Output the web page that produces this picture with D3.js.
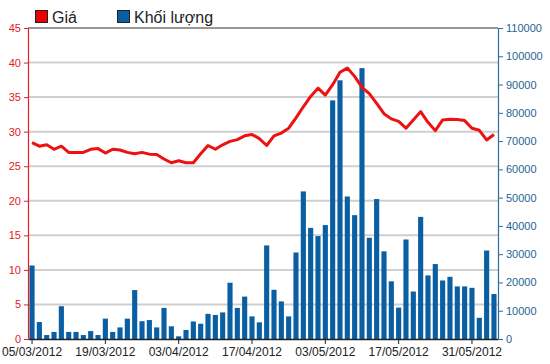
<!DOCTYPE html>
<html>
<head>
<meta charset="utf-8">
<script src="https://cdn.jsdelivr.net/npm/d3@7"></script>
<style>
  html, body { margin: 0; padding: 0; background: #fff; }
  svg { display: block; font-family: "Liberation Sans", Arial, sans-serif; }
</style>
</head>
<body>
<svg id="chart"></svg>
<script>
// trading days shown on the x axis
const dates = [
  "05/03/2012","06/03/2012","07/03/2012","08/03/2012","09/03/2012",
  "12/03/2012","13/03/2012","14/03/2012","15/03/2012","16/03/2012",
  "19/03/2012","20/03/2012","21/03/2012","22/03/2012","23/03/2012",
  "26/03/2012","27/03/2012","28/03/2012","29/03/2012","30/03/2012",
  "03/04/2012","04/04/2012","05/04/2012","06/04/2012","09/04/2012",
  "10/04/2012","11/04/2012","12/04/2012","13/04/2012","16/04/2012",
  "17/04/2012","18/04/2012","19/04/2012","20/04/2012","23/04/2012",
  "24/04/2012","25/04/2012","26/04/2012","27/04/2012","02/05/2012",
  "03/05/2012","04/05/2012","07/05/2012","08/05/2012","09/05/2012",
  "10/05/2012","11/05/2012","14/05/2012","15/05/2012","16/05/2012",
  "17/05/2012","18/05/2012","21/05/2012","22/05/2012","23/05/2012",
  "24/05/2012","25/05/2012","28/05/2012","29/05/2012","30/05/2012",
  "31/05/2012","01/06/2012","04/06/2012","05/06/2012"
];

// Giá (price, left axis)
const price = [
  28.4, 27.9, 28.1, 27.45, 27.9, 27.0, 27.0, 27.0, 27.45, 27.55,
  26.9, 27.45, 27.35, 27.0, 26.8, 27.0, 26.75, 26.7, 26.05, 25.5,
  25.8, 25.5, 25.5, 26.8, 28.0, 27.45, 28.1, 28.6, 28.85, 29.4,
  29.6, 29.0, 28.0, 29.4, 29.8, 30.5, 32.0, 33.6, 35.1, 36.3,
  35.3, 36.8, 38.6, 39.2, 38.0, 36.4, 35.5, 34.1, 32.6, 31.85,
  31.5, 30.5, 31.7, 32.9, 31.35, 30.15, 31.7, 31.8, 31.75, 31.6,
  30.5, 30.2, 28.8, 29.6
];

// Khối lượng (volume, right axis)
const volume = [
  26000, 6000, 1400, 2500, 11600, 2500, 2500, 1400, 2800, 1400,
  7200, 2500, 4100, 7200, 17300, 6300, 6700, 4100, 11000, 4500,
  950, 3200, 6200, 5400, 8900, 8500, 9400, 19900, 11000, 15000,
  8000, 5900, 33100, 17400, 13300, 8000, 30600, 52200, 39300, 36400,
  40300, 84400, 91500, 50400, 43800, 95800, 35800, 49500, 31000, 20400,
  11100, 35200, 16800, 43200, 22500, 26500, 20700, 22000, 18600, 18600,
  18100, 7500, 31300, 15900
];

const xTickLabels = ["05/03/2012","19/03/2012","03/04/2012","17/04/2012","03/05/2012","17/05/2012","31/05/2012"];
const priceTicks = [0, 5, 10, 15, 20, 25, 30, 35, 40, 45];
const volumeTicks = [0, 10000, 20000, 30000, 40000, 50000, 60000, 70000, 80000, 90000, 100000, 110000];

const width = 550, height = 364;
const margin = { top: 28, right: 52, bottom: 25, left: 28 };
const innerWidth = width - margin.left - margin.right;
const innerHeight = height - margin.top - margin.bottom;

const svg = d3.select('#chart').attr('width', width).attr('height', height);
const g = svg.append('g').attr('transform', `translate(${margin.left},${margin.top})`);

const rows = dates.map((d, i) => ({ date: d, price: price[i], volume: volume[i] }));

const xScale = d3.scaleBand()
  .domain(dates)
  .range([0, innerWidth])
  .paddingInner(0.3)
  .paddingOuter(0.2);
const yPrice = d3.scaleLinear().domain([0, 45]).range([innerHeight, 0]);
const yVolume = d3.scaleLinear().domain([0, 110000]).range([innerHeight, 0]);

//gridlines from the price axis
g.append('g').selectAll('line').data(priceTicks.slice(1, -1)).enter().append('line')
  .attr('x1', 0).attr('x2', innerWidth)
  .attr('y1', d => yPrice(d)).attr('y2', d => yPrice(d))
  .attr('stroke', '#cfcfcf').attr('stroke-width', 2);

// top frame line
g.append('line')
  .attr('x1', 0).attr('x2', innerWidth)
  .attr('y1', 0).attr('y2', 0)
  .attr('stroke', '#333').attr('stroke-width', 1.2);

//volume bars
g.selectAll('.bar').data(rows).enter().append('rect')
  .attr('class', 'bar')
  .attr('x', d => xScale(d.date))
  .attr('width', xScale.bandwidth())
  .attr('y', d => yVolume(d.volume))
  .attr('height', d => innerHeight - yVolume(d.volume))
  .attr('fill', '#0a5fa3');

//price line
const priceLine = d3.line()
  .x(d => xScale(d.date) + xScale.bandwidth() / 2)
  .y(d => yPrice(d.price));
g.append('path').datum(rows)
  .attr('d', priceLine)
  .attr('fill', 'none')
  .attr('stroke', '#ee1111')
  .attr('stroke-width', 3)
  .attr('stroke-linejoin', 'round');

//axes
const xAxis = d3.axisBottom(xScale)
  .tickValues(xTickLabels)
  .tickSize(5)
  .tickSizeOuter(0)
  .tickPadding(3);
const gx = g.append('g').attr('transform', `translate(0,${innerHeight})`).call(xAxis);
gx.select('.domain').attr('stroke', '#222').attr('stroke-width', 1.5);
gx.selectAll('.tick line').attr('stroke', '#222');
gx.selectAll('.tick text').attr('fill', '#222').style('font-size', '12px');

const yAxisLeft = d3.axisLeft(yPrice)
  .tickValues(priceTicks)
  .tickSize(4)
  .tickSizeOuter(0)
  .tickPadding(3);
const gl = g.append('g').call(yAxisLeft);
gl.select('.domain').attr('stroke', '#e62020').attr('stroke-width', 1.2);
gl.selectAll('.tick line').attr('stroke', '#e62020');
gl.selectAll('.tick text').attr('fill', '#e62020').style('font-size', '11px');

const yAxisRight = d3.axisRight(yVolume)
  .tickValues(volumeTicks)
  .tickFormat(d3.format('d'))
  .tickSize(5)
  .tickSizeOuter(0)
  .tickPadding(3);
const gr = g.append('g').attr('transform', `translate(${innerWidth},0)`).call(yAxisRight);
gr.select('.domain').attr('stroke', '#2a6e9a').attr('stroke-width', 1.2);
gr.selectAll('.tick line').attr('stroke', '#2a6e9a');
gr.selectAll('.tick text').attr('fill', '#1f6492').style('font-size', '11px');

//legend
const legend = svg.append('g').attr('class', 'legend');
const legendItems = [
  { label: 'Giá', color: '#ee0000', x: 35 },
  { label: 'Khối lượng', color: '#0a5fa3', x: 117 }
];
legendItems.forEach(item => {
  legend.append('rect')
    .attr('x', item.x + 0.5).attr('y', 10.5)
    .attr('width', 12).attr('height', 12)
    .attr('fill', item.color)
    .attr('stroke', '#222').attr('stroke-width', 1);
  legend.append('text')
    .attr('x', item.x + 17).attr('y', 22.5)
    .attr('fill', '#222')
    .style('font-size', '16px')
    .text(item.label);
});
</script>
</body>
</html>
